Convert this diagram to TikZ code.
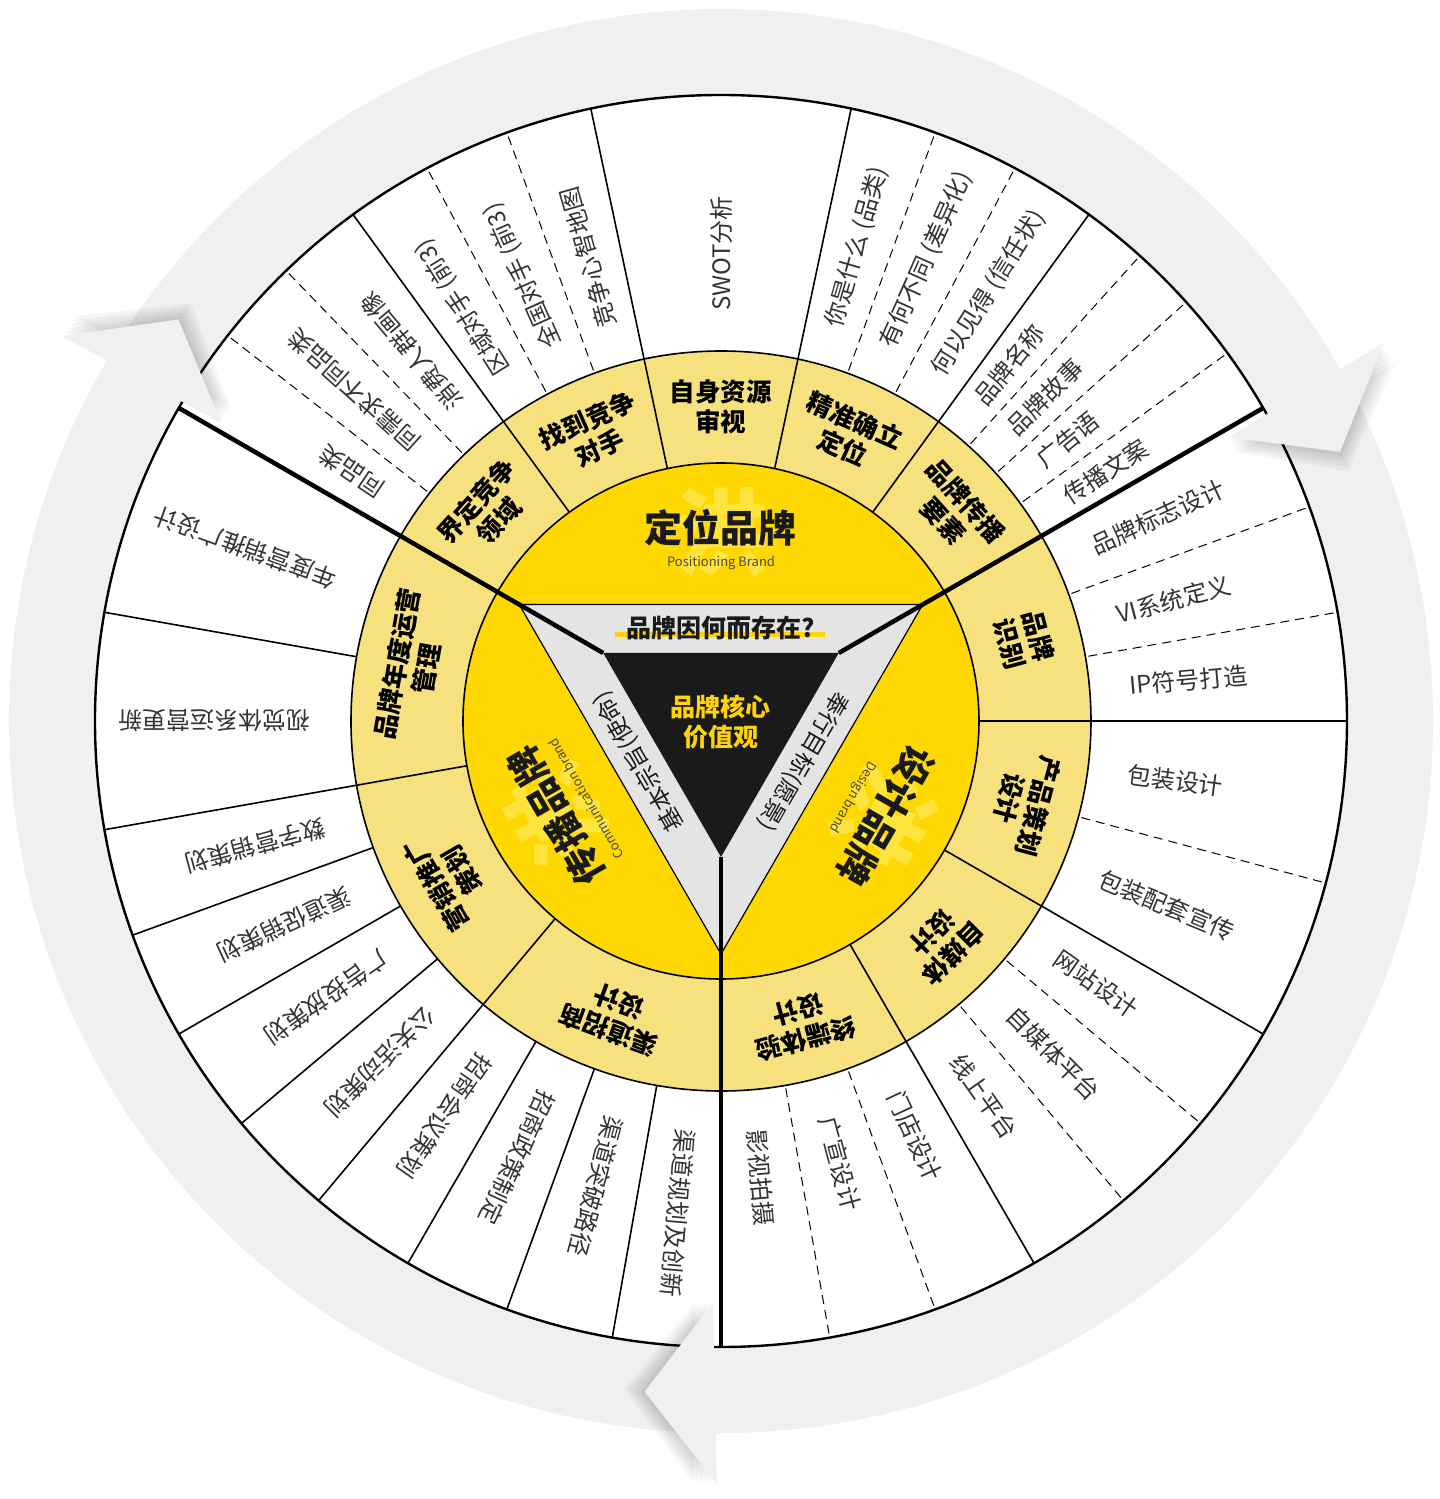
\documentclass[tikz,border=0pt]{standalone}
\usepackage{fontspec}
\setmainfont{Noto Sans CJK SC}
\definecolor{ringgray}{HTML}{F0F0F0}
\definecolor{subyel}{HTML}{F6E17E}
\definecolor{mainyel}{HTML}{FED800}
\definecolor{wmyel}{HTML}{FFE43E}
\definecolor{trigray}{HTML}{E4E4E4}
\definecolor{tridark}{HTML}{1A1A1A}
\definecolor{txtyel}{HTML}{FFD400}
\definecolor{itemtxt}{HTML}{333333}
\definecolor{entxt}{HTML}{4A4A40}
\begin{document}
\begin{tikzpicture}[x=1pt,y=1pt,
  itemtext/.style={anchor=west, font=\fontsize{24}{24}\selectfont, text=itemtxt, inner sep=0pt},
  sublabel/.style={align=center, font=\bfseries\fontsize{25.5}{30}\selectfont, text=black, inner sep=0pt},
  mainlabel/.style={font=\bfseries\fontsize{38}{38}\selectfont, text=tridark, inner sep=0pt},
  enlabel/.style={font=\fontsize{13}{13}\selectfont, text=entxt, inner sep=0pt},
  wmark/.style={font=\bfseries\fontsize{95}{95}\selectfont, text=wmyel, inner sep=0pt},
  sidetext/.style={font=\fontsize{23.5}{23.5}\selectfont, text=tridark, inner sep=0pt},
  thinline/.style={line width=1.6pt},
  dashline/.style={line width=1pt, dash pattern=on 9pt off 6pt},
  thickline/.style={line width=4.5pt},
]
\useasboundingbox (-721,-778) rectangle (719,721);
% gray arrow ring
\fill[ringgray] (0,0) circle (712);
% wheel layers
\fill[white] (0,0) circle (626);
\fill[subyel] (0,0) circle (370);
\fill[mainyel] (0,0) circle (258);
% watermarks
\foreach \a/\r [count=\i] in {90/0, -30/-120, 210/120}
  \node[wmark, rotate=\r] (wm\i) at (\a:189) {洪};
% triangles
\filldraw[fill=trigray, draw=black, line width=1.2pt] (150:233) -- (30:233) -- (270:233) -- cycle;
\fill[tridark] (150:136) -- (30:136) -- (270:136) -- cycle;
% dashed dividers
\foreach \a in {134,142,110,118,62,70,36,42,48,10,20,-15,-40,-50,-70,-80}
  \draw[dashline] (\a:373) -- (\a:622);
% solid dividers in outer ring only
\foreach \a in {170,200,210,220,240,250,260}
  \draw[thinline] (\a:370) -- (\a:626);
% solid dividers through both rings
\foreach \a in {126,102,78,54,0,-30,-60,190,230}
  \draw[thinline] (\a:258) -- (\a:626);
% circles
\draw[thinline] (0,0) circle (258);
\draw[thinline] (0,0) circle (370);
\draw[line width=2.4pt] (0,0) circle (626);
% thick sector separators
\foreach \a in {150,30,270}
  \draw[thickline] (\a:136) -- (\a:626);
% arrowheads with soft shadow
\foreach \b in {150,30,270} {
  \foreach \k in {1,...,5}
    \fill[black, opacity=0.035] ({\b-0.8-0.35*\k}:582) -- ({\b-0.3-0.35*\k}:763) -- ({\b-6.5-0.35*\k}:675) -- cycle;
  \fill[ringgray] ({\b-0.8}:582) -- ({\b-0.3}:763) -- ({\b-6.5}:675) -- cycle;
}
% centre texts
\fill[txtyel] (-106,84) rectangle (104,89);
\node[font=\bfseries\fontsize{25}{25}\selectfont, text=tridark, inner sep=0pt] (why) at (0,93) {品牌因何而存在?};
\node[align=center, font=\bfseries\fontsize{25}{30}\selectfont, text=txtyel, inner sep=0pt] (core) at (0,-1) {品牌核心\\价值观};
\node[sidetext, rotate=120] (mission) at (-82,-40) {基本宗旨(使命)};
\node[sidetext, rotate=-120] (vision) at (82,-40) {奉行目标(愿景)};
% main labels
\node[mainlabel] (pos) at (90:193) {定位品牌};
\node[enlabel] (posen) at (90:158) {Positioning Brand};
\node[mainlabel, rotate=-120] (des) at (-30:190) {设计品牌};
\node[enlabel, rotate=-120] (desen) at (-30:152) {Design brand};
\node[mainlabel, rotate=120] (com) at (210:190) {传播品牌};
\node[enlabel, rotate=120] (comen) at (210:156) {Communication brand};
% sub-ring labels
\foreach \a/\t [count=\i] in {138/{界定竞争\\领域}, 114/{找到竞争\\对手}, 90/{自身资源\\审视}, 66/{精准确立\\定位}, 42/{品牌传播\\要素}, 15/{品牌\\识别}, -15/{产品策划\\设计}, -45/{自媒体\\设计}, -75/{终端体验\\设计}, 170/{品牌年度运营\\管理}, 210/{营销推广\\策划}, 250/{渠道招商\\设计}}
  \node[sublabel, rotate=\a-90] (sub\i) at (\a:314) {\t};
% outer ring items
\foreach \a/\t [count=\i] in {146/同品类, 138/同需求不同品类, 130/消费人群画像, 122/区域对手 (前3), 114/全国对手 (前3), 106/竞争心智地图, 90/SWOT分析, 74/你是什么 (品类), 66/有何不同 (差异化), 58/何以见得 (信任状), 51/品牌名称, 45/品牌故事, 39/广告语, 33/传播文案, 25/品牌标志设计, 15/VI系统定义, 5/IP符号打造, -7.5/包装设计, -22.5/包装配套宣传, -35/网站设计, -45/自媒体平台, -55/线上平台, -65/门店设计, -75/广宣设计, -85/影视拍摄, 160/年度营销推广设计, 180/视觉体系运营更新, 195/数字营销策划, 205/渠道促销策划, 215/广告投放策划, 225/公关活动策划, 235/招商会议策划, 245/招商政策制定, 255/渠道突破路径, 265/渠道规划及创新}
  \node[itemtext, rotate=\a] (item\i) at (\a:410) {\t};
\end{tikzpicture}
\end{document}
